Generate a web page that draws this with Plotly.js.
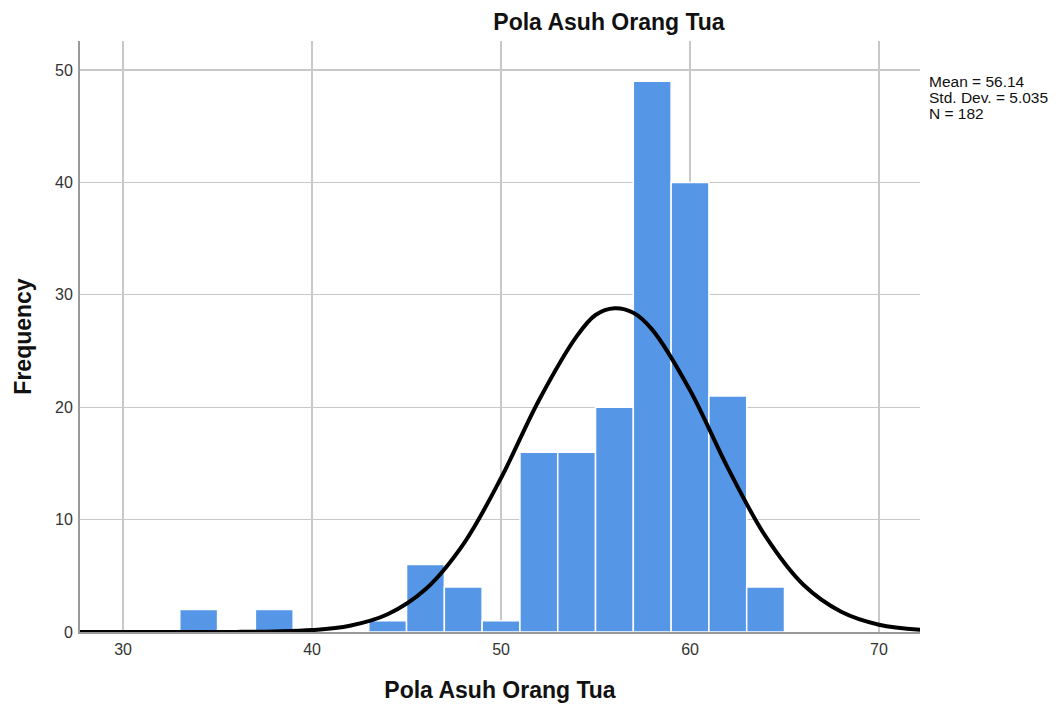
<!DOCTYPE html>
<html>
<head>
<meta charset="utf-8">
<script src="https://cdn.plot.ly/plotly-3.0.1.min.js"></script>
<style>html,body{margin:0;padding:0;background:#fff;}#chart{width:1061px;height:708px;}</style>
</head>
<body>
<div id="chart"></div>
<script>
// Histogram bins (bin centres, width 2) and frequencies
const binCenters = [34, 38, 44, 46, 48, 50, 52, 54, 56, 58, 60, 62, 64];
const frequencies = [2, 2, 1, 6, 4, 1, 16, 16, 20, 49, 40, 21, 4];
const binWidth = 2;

// Normal curve points
const curveX = [27.7, 30, 32, 34, 36, 38, 40, 42, 44, 46, 48, 50, 52, 54, 55, 56, 57, 58, 60, 62, 64, 66, 68, 70, 72.2];
const curveY = [0, 0, 0, 0, 0.01, 0.05, 0.17, 0.56, 1.58, 3.8, 7.8, 13.7, 20.6, 26.3, 28.2, 28.8, 28.4, 26.9, 21.5, 14.6, 8.5, 4.2, 1.8, 0.65, 0.2];

const statsText = ['Mean = 56.14', 'Std. Dev. = 5.035', 'N = 182'];
const chartTitle = 'Pola Asuh Orang Tua';
const xTitle = 'Pola Asuh Orang Tua';
const yTitle = 'Frequency';
const xTicks = [30, 40, 50, 60, 70];
const yTicks = [0, 10, 20, 30, 40, 50];

const FONT = 'Liberation Sans, Arial, sans-serif';

const traces = [
  {
    type: 'bar',
    x: binCenters,
    y: frequencies,
    width: binCenters.map(() => binWidth),
    marker: {color: '#5596e6', line: {color: '#ffffff', width: 1.5}},
    hoverinfo: 'x+y'
  },
  {
    type: 'scatter',
    mode: 'lines',
    x: curveX,
    y: curveY,
    line: {color: '#000000', width: 4, shape: 'spline', smoothing: 1},
    cliponaxis: false,
    hoverinfo: 'skip'
  }
];

const statsAnnotations = statsText.map((t, i) => ({
  xref: 'paper', yref: 'paper',
  x: (927 - 80) / 840, y: (632 - (81 + 16 * i)) / 591,
  xanchor: 'left', yanchor: 'middle',
  align: 'left',
  showarrow: false,
  text: t,
  font: {family: FONT, size: 15.5, color: '#111'}
}));

const layout = {
  width: 1061,
  height: 708,
  paper_bgcolor: '#ffffff',
  plot_bgcolor: '#ffffff',
  showlegend: false,
  margin: {l: 80, r: 141, t: 41, b: 76, pad: 0},
  font: {family: FONT, color: '#222'},
  title: {
    text: chartTitle,
    font: {family: FONT, size: 23, color: '#111', weight: 'bold'},
    xref: 'container', yref: 'container',
    x: 609 / 1061, y: 1 - 22 / 708,
    xanchor: 'center', yanchor: 'middle'
  },
  xaxis: {
    range: [27.72, 72.17],
    tickvals: xTicks,
    ticktext: xTicks.map(String),
    ticks: '',
    showgrid: true,
    gridcolor: '#c8c8c8',
    gridwidth: 1.3,
    zeroline: false,
    showline: true,
    linecolor: '#9a9a9a',
    linewidth: 2,
    tickfont: {family: FONT, size: 16, color: '#333'},
    ticklabelstandoff: 2,
    title: {text: xTitle, font: {family: FONT, size: 23, color: '#111', weight: 'bold'}, standoff: 25},
    fixedrange: true
  },
  yaxis: {
    range: [0, 52.58],
    tickvals: yTicks,
    ticktext: yTicks.map(String),
    ticks: '',
    showgrid: true,
    gridcolor: '#c8c8c8',
    gridwidth: 1.3,
    zeroline: false,
    showline: true,
    linecolor: '#9a9a9a',
    linewidth: 2,
    tickfont: {family: FONT, size: 16, color: '#333'},
    ticklabelstandoff: 2,
    title: {text: yTitle, font: {family: FONT, size: 23, color: '#111', weight: 'bold'}, standoff: 17},
    fixedrange: true
  },
  annotations: statsAnnotations
};

Plotly.newPlot('chart', traces, layout, {displayModeBar: false, staticPlot: true});
</script>
</body>
</html>
